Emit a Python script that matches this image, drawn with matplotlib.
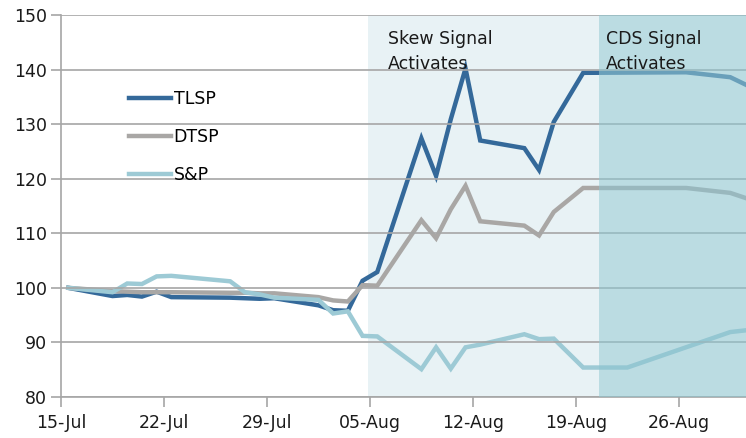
import pandas as pd
import numpy as np
import matplotlib.pyplot as plt
import matplotlib.dates as mdates

plt.switch_backend('Agg')

# trading days shown on the chart (gaps = no point drawn for that series)
dates = ["2011-07-15", "2011-07-18", "2011-07-19", "2011-07-20", "2011-07-21",
         "2011-07-22", "2011-07-26", "2011-07-27", "2011-07-28", "2011-07-29",
         "2011-08-01", "2011-08-02", "2011-08-03", "2011-08-04", "2011-08-05",
         "2011-08-08", "2011-08-09", "2011-08-10", "2011-08-11", "2011-08-12",
         "2011-08-15", "2011-08-16", "2011-08-17", "2011-08-19", "2011-08-22",
         "2011-08-26", "2011-08-29", "2011-08-30"]

tlsp = [100.0, 98.5, 98.7, 98.4, 99.3, 98.3, 98.2, 98.1, 98.0, 98.1,
        96.8, 95.9, 95.8, 101.3, 102.9, 127.4, 120.5, 130.9, 140.2, 127.0,
        125.6, 121.6, 130.4, 139.4, None, 139.5, 138.6, 137.3]
dtsp = [100.0, 99.4, 99.3, 99.2, 99.2, 99.2, 99.1, 99.1, 99.0, 99.0,
        98.3, 97.7, 97.5, 100.5, 100.4, 112.4, 109.1, 114.4, 118.7, 112.2,
        111.4, 109.6, 113.9, 118.3, None, 118.3, 117.4, 116.5]
snp = [100.0, 99.2, 100.8, 100.7, 102.1, 102.2, 101.2, 99.2, 98.8, 98.2,
       97.8, 95.3, 95.7, 91.2, 91.1, 85.1, 89.1, 85.2, 89.1, 89.6,
       91.5, 90.6, 90.7, 85.4, 85.4, None, 91.9, 92.2]

series_names = ["TLSP", "DTSP", "S&P"]
series_colors = ["#34699A", "#A9A7A5", "#9DCAD5"]

tick_dates = ["2011-07-15", "2011-07-22", "2011-07-29", "2011-08-05",
              "2011-08-12", "2011-08-19", "2011-08-26"]

start = pd.Timestamp("2011-07-15")
x = pd.to_datetime(dates) + pd.Timedelta(hours=12)  # points sit mid-day

fig = plt.figure(figsize=(7.46, 4.38), dpi=100)
ax = fig.add_axes([0.0818, 0.0936, 0.9182, 0.8722])

font = "DejaVu Sans"

# shaded signal regions
light_start = start + pd.Timedelta(days=20.9)
dark_start = start + pd.Timedelta(days=36.6)
x_end = start + pd.Timedelta(days=46.57)
ax.axvspan(light_start, dark_start, color="#E8F2F5", zorder=0.5, lw=0)
ax.axvspan(dark_start, x_end, color="#8FC5D0", alpha=0.6, zorder=3, lw=0)

for vals, name, col in zip([tlsp, dtsp, snp], series_names, series_colors):
    v = np.array([np.nan if a is None else a for a in vals], dtype=float)
    m = ~np.isnan(v)
    ax.plot(x[m], v[m], color=col, lw=3.2, label=name, zorder=2,
            solid_joinstyle="miter")

ax.set_ylim(80, 150)
ax.set_yticks(range(80, 151, 10))
ax.set_xlim(start, x_end)
ax.set_xticks(pd.to_datetime(tick_dates))
ax.xaxis.set_major_formatter(mdates.DateFormatter("%d-%b"))

ax.grid(axis="y", color="#A6A6A6", lw=1.2, zorder=1)
ax.set_axisbelow(False)
for s in ["top", "right"]:
    ax.spines[s].set_visible(False)
for s in ["left", "bottom"]:
    ax.spines[s].set_color("#A6A6A6")
    ax.spines[s].set_linewidth(1.2)
ax.tick_params(axis="both", colors="#A6A6A6", length=7, width=1.2,
               labelcolor="#1A1A1A", labelsize=12.5)
ax.tick_params(axis="y", pad=3)
ax.tick_params(axis="x", pad=5)
for lab in ax.get_xticklabels() + ax.get_yticklabels():
    lab.set_family(font)

leg = ax.legend(loc="upper left", bbox_to_anchor=(0.077, 0.845), frameon=False,
                handlelength=2.4, handletextpad=0.15, labelspacing=1.15,
                prop={"family": font, "size": 12.5})
leg.set_zorder(5)

ax.text(start + pd.Timedelta(days=22.2), 147.2, "Skew Signal\nActivates",
        va="top", ha="left", fontsize=12.5, family=font, color="#1A1A1A",
        linespacing=1.45, zorder=5)
ax.text(start + pd.Timedelta(days=37.05), 147.2, "CDS Signal\nActivates",
        va="top", ha="left", fontsize=12.5, family=font, color="#1A1A1A",
        linespacing=1.45, zorder=5)

fig.savefig("out.png", dpi=100)
plt.close(fig)
